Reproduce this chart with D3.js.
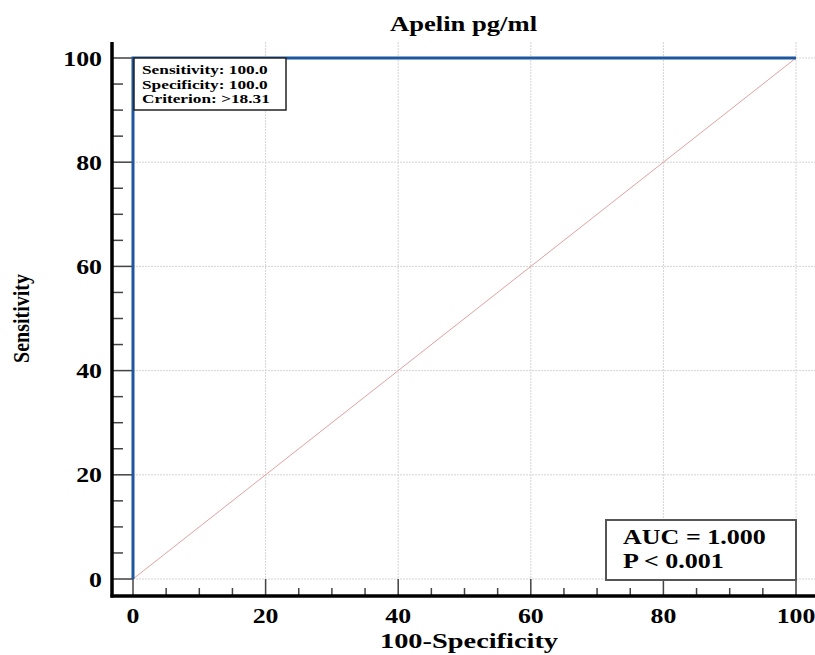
<!DOCTYPE html>
<html lang="en">
<head>
  <meta charset="utf-8">
  <style>
    body { margin: 0; padding: 0; background: #fff; }
    text { font-family: "Liberation Serif", "Times New Roman", serif; font-weight: bold; fill: #000; }
  </style>
</head>
<body>
<svg width="815" height="655"></svg>
<script src="https://d3js.org/d3.v7.min.js"></script>
<script>
  // ROC curve points (100-Specificity, Sensitivity)
  var rocX = [0, 0, 100];
  var rocY = [0, 100, 100];
  // reference diagonal
  var diagX = [0, 100];
  var diagY = [0, 100];
  var majorTicks = [0, 20, 40, 60, 80, 100];
  var minorTicks = [5, 10, 15, 25, 30, 35, 45, 50, 55, 65, 70, 75, 85, 90, 95];
  var infoLines = ["Sensitivity: 100.0", "Specificity: 100.0", "Criterion: >18.31"];
  var statLines = ["AUC = 1.000", "P < 0.001"];

  var svg = d3.select("svg");

  var x = d3.scaleLinear().domain([0, 100]).range([133, 796]);
  var y = d3.scaleLinear().domain([0, 100]).range([579, 58]);

  var axisX = 112,  // where the left axis line sits
      axisY = 596;  // where the bottom axis line sits

  // the original's lettering is stretched sideways
  function place(px, py, sx) {
    return "translate(" + px + "," + py + ") scale(" + sx + ",1)";
  }

  // grid
  svg.append("g").selectAll("line")
    .data(majorTicks.slice(1))
    .enter().append("line")
    .attr("x1", function(d) { return x(d); })
    .attr("x2", function(d) { return x(d); })
    .attr("y1", 42)
    .attr("y2", axisY)
    .attr("stroke", "#d4d4d4")
    .attr("stroke-dasharray", "2,1");

  svg.append("g").selectAll("line")
    .data(majorTicks)
    .enter().append("line")
    .attr("x1", axisX)
    .attr("x2", 815)
    .attr("y1", function(d) { return y(d); })
    .attr("y2", function(d) { return y(d); })
    .attr("stroke", "#d4d4d4")
    .attr("stroke-dasharray", "2,1");

  // diagonal
  var line = d3.line()
    .x(function(d) { return x(d[0]); })
    .y(function(d) { return y(d[1]); });

  svg.append("path")
    .datum(d3.zip(diagX, diagY))
    .attr("d", line)
    .attr("fill", "none")
    .attr("stroke", "#e3a1a1")
    .attr("stroke-width", 1);

  // ticks, inward
  var ticks = svg.append("g").attr("stroke", "#444").attr("stroke-width", 1.5);
  ticks.selectAll(".ty").data(majorTicks).enter().append("line")
    .attr("x1", axisX).attr("x2", x(0))
    .attr("y1", function(d) { return y(d); }).attr("y2", function(d) { return y(d); });
  ticks.selectAll(".tym").data(minorTicks).enter().append("line")
    .attr("x1", axisX).attr("x2", axisX + 11)
    .attr("y1", function(d) { return y(d); }).attr("y2", function(d) { return y(d); });
  ticks.selectAll(".tx").data(majorTicks).enter().append("line")
    .attr("y1", axisY).attr("y2", y(0))
    .attr("x1", function(d) { return x(d); }).attr("x2", function(d) { return x(d); });
  ticks.selectAll(".txm").data(minorTicks).enter().append("line")
    .attr("y1", axisY).attr("y2", axisY - 8)
    .attr("x1", function(d) { return x(d); }).attr("x2", function(d) { return x(d); });

  // axis lines
  svg.append("line").attr("x1", axisX).attr("x2", axisX).attr("y1", 42).attr("y2", axisY + 1.5)
    .attr("stroke", "#000").attr("stroke-width", 3.5);
  svg.append("line").attr("x1", axisX - 1.5).attr("x2", 815).attr("y1", axisY).attr("y2", axisY)
    .attr("stroke", "#000").attr("stroke-width", 3.5);

  // ROC curve
  svg.append("path")
    .datum(d3.zip(rocX, rocY))
    .attr("d", line)
    .attr("fill", "none")
    .attr("stroke", "#1c57a0")
    .attr("stroke-width", 3);

  // tick labels
  svg.append("g").selectAll("text").data(majorTicks).enter().append("text")
    .attr("transform", function(d) { return place(102, y(d), 1.2); })
    .attr("dy", "0.35em")
    .attr("text-anchor", "end")
    .style("font-size", "21.5px")
    .text(function(d) { return d; });

  svg.append("g").selectAll("text").data(majorTicks).enter().append("text")
    .attr("transform", function(d) { return place(x(d), 623, 1.2); })
    .attr("text-anchor", "middle")
    .style("font-size", "21.5px")
    .text(function(d) { return d; });

  // titles
  svg.append("text")
    .attr("transform", place(463.5, 31, 1.21))
    .attr("text-anchor", "middle")
    .style("font-size", "22px")
    .text("Apelin pg/ml");

  svg.append("text")
    .attr("transform", place(469, 648, 1.29))
    .attr("text-anchor", "middle")
    .style("font-size", "22px")
    .text("100-Specificity");

  svg.append("text")
    .attr("transform", "translate(29,318.5) rotate(-90) scale(1,1.2)")
    .attr("text-anchor", "middle")
    .style("font-size", "20px")
    .text("Sensitivity");

  // criterion box
  svg.append("rect")
    .attr("x", 134).attr("y", 58).attr("width", 152).attr("height", 52)
    .attr("fill", "#fff").attr("stroke", "#222").attr("stroke-width", 1.5);
  svg.append("g").selectAll("text").data(infoLines).enter().append("text")
    .attr("transform", function(d, i) { return place(142, 74 + i * 14.7, 1.33); })
    .style("font-size", "13px")
    .text(function(d) { return d; });

  // AUC box
  svg.append("rect")
    .attr("x", 606).attr("y", 520).attr("width", 190).attr("height", 60)
    .attr("fill", "#fff").attr("stroke", "#555").attr("stroke-width", 2);
  svg.append("g").selectAll("text").data(statLines).enter().append("text")
    .attr("transform", function(d, i) { return place(623, 544 + i * 24, 1.24); })
    .style("font-size", "21px")
    .text(function(d) { return d; });
</script>
</body>
</html>
